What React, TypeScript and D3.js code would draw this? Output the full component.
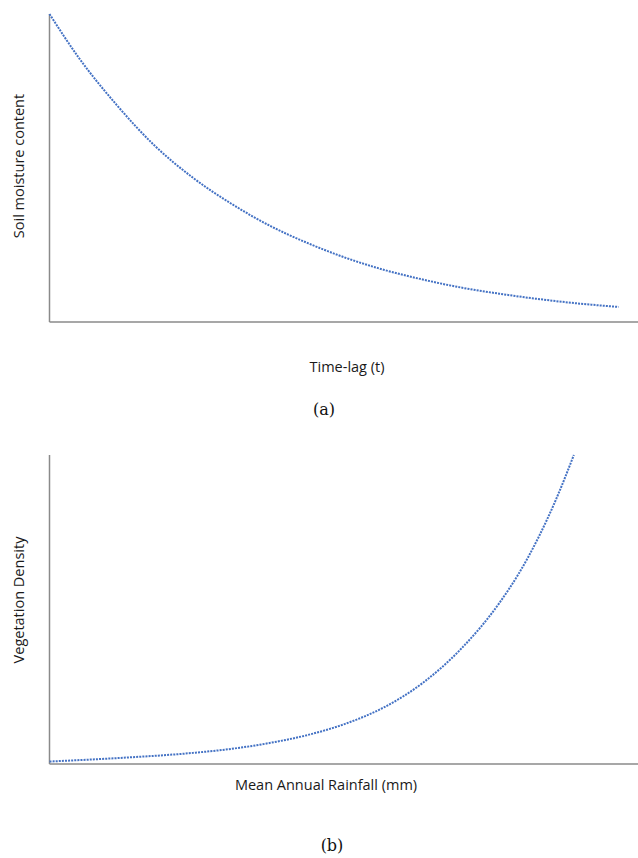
import * as d3 from 'd3';

// panel (a): soil moisture decay vs time-lag
const lagX = [0, 4.9, 11.4, 17.9, 24.4, 30.9, 37.4, 43.9, 50.4, 56.9, 63.4, 69.9, 76.4, 82.9, 89.4, 96.7];
const moistureY = [100, 86.0, 70.5, 57.2, 46.8, 38.4, 31.3, 25.6, 20.8, 16.9, 13.8, 11.2, 9.2, 7.5, 6.1, 4.9];

// panel (b): vegetation density vs rainfall
const rainX = [0, 11.4, 24.4, 30.9, 37.4, 43.9, 50.4, 56.9, 63.4, 69.9, 76.4, 79.7, 83.0, 86.2, 89.1];
const densityY = [0.8, 1.9, 3.6, 4.9, 6.8, 9.4, 13.1, 18.4, 26.2, 37.2, 52.0, 61.5, 73.0, 86.2, 100];

const W = 638;
const H = 858;
const labelFont = '"Open Sans", "Noto Sans", sans-serif';
const capFont = '"DejaVu Serif", "Liberation Serif", serif';

type PanelProps = {
    xs: number[];
    ys: number[];
    top: number;
    bottom: number;
    yTitle: string;
    yTitleY: number;
    xTitle: string;
    xTitleX: number;
    xTitleY: number;
    caption: string;
    captionX: number;
    captionY: number;
};

const Panel = ({ xs, ys, top, bottom, yTitle, yTitleY, xTitle, xTitleX, xTitleY, caption, captionX, captionY }: PanelProps) => {
    const x = d3.scaleLinear().domain([0, 100]).range([49.5, 638]);
    const y = d3.scaleLinear().domain([0, 100]).range([bottom, top]);

    const pts: [number, number][] = xs.map((v, i) => [v, ys[i]]);
    const line = d3.line<[number, number]>()
        .x(d => x(d[0]))
        .y(d => y(d[1]))
        .curve(d3.curveMonotoneX);

    return (
        <g>
            <line x1={x(0)} x2={x(0)} y1={y(0)} y2={y(100)} stroke="#8a8a8a" strokeWidth={1.5} />
            <line x1={x(0)} x2={x(100)} y1={y(0)} y2={y(0)} stroke="#8a8a8a" strokeWidth={1.5} />
            <path d={line(pts) || ''} fill="none" stroke="#4472C4" strokeWidth={2}
                strokeDasharray="2,1.1" />
            <text transform={`translate(18,${yTitleY}) rotate(-90)`} textAnchor="middle"
                dominantBaseline="central" fontFamily={labelFont} fontSize={14.5} fill="#1a1a1a">
                {yTitle}
            </text>
            <text x={xTitleX} y={xTitleY} textAnchor="middle" dominantBaseline="central"
                fontFamily={labelFont} fontSize={14.5} fill="#1a1a1a">
                {xTitle}
            </text>
            <text x={captionX} y={captionY} textAnchor="middle" dominantBaseline="central"
                fontFamily={capFont} fontSize={16} fill="#111">
                {caption}
            </text>
        </g>
    );
};

const App = () => {
    return (
        <svg width={W} height={H} style={{ position: 'absolute', left: 0, top: 0, background: '#fff' }}>
            <rect width={W} height={H} fill="#fff" />
            <Panel xs={lagX} ys={moistureY} top={14} bottom={322}
                yTitle="Soil moisture content" yTitleY={166}
                xTitle="Time-lag (t)" xTitleX={347} xTitleY={366}
                caption="(a)" captionX={324} captionY={409} />
            <Panel xs={rainX} ys={densityY} top={455} bottom={764}
                yTitle="Vegetation Density" yTitleY={600}
                xTitle="Mean Annual Rainfall (mm)" xTitleX={326} xTitleY={784}
                caption="(b)" captionX={332} captionY={845} />
        </svg>
    );
};

export default App;
